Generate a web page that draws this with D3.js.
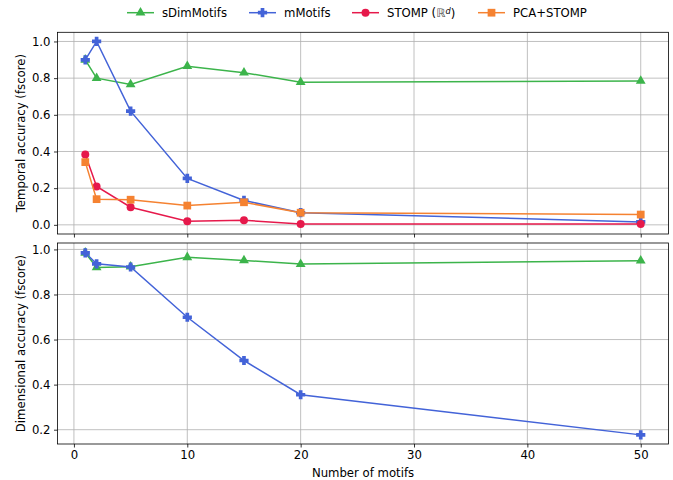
<!DOCTYPE html>
<html>
<head>
<meta charset="utf-8">
<script src="https://cdn.jsdelivr.net/npm/d3@7"></script>
<style>
  body { margin: 0; background: #fff; }
  text { font-family: "DejaVu Sans", sans-serif; fill: #000; }
</style>
</head>
<body>
<svg id="chart" width="673" height="480"></svg>
<script>
// Number of motifs (x values)
var nMotifs = [1, 2, 5, 10, 15, 20, 50];

// Temporal accuracy (fscore), top panel
var temporalSDim = [0.90, 0.80, 0.766, 0.865, 0.83, 0.778, 0.785];
var temporalMMotifs = [0.90, 1.00, 0.62, 0.253, 0.133, 0.066, 0.016];
var temporalStomp = [0.384, 0.209, 0.096, 0.020, 0.025, 0.005, 0.005];
var temporalPca = [0.342, 0.140, 0.137, 0.105, 0.123, 0.066, 0.056];

// Dimensional accuracy (fscore), bottom panel
var dimSDim = [0.985, 0.92, 0.923, 0.965, 0.951, 0.935, 0.95];
var dimMMotifs = [0.985, 0.936, 0.922, 0.699, 0.507, 0.355, 0.177];

// Tick labels
var xTicks = [0, 10, 20, 30, 40, 50];
var topTicks = [0.0, 0.2, 0.4, 0.6, 0.8, 1.0];
var bottomTicks = [0.2, 0.4, 0.6, 0.8, 1.0];

// filled "plus" marker, thicker than d3.symbolCross
var symbolPlus = {
  draw: function (ctx, size) {
    var r = Math.sqrt(size) / 2;
    var w = r * 0.4;
    ctx.moveTo(-w, -r);
    ctx.lineTo(w, -r);
    ctx.lineTo(w, -w);
    ctx.lineTo(r, -w);
    ctx.lineTo(r, w);
    ctx.lineTo(w, w);
    ctx.lineTo(w, r);
    ctx.lineTo(-w, r);
    ctx.lineTo(-w, w);
    ctx.lineTo(-r, w);
    ctx.lineTo(-r, -w);
    ctx.lineTo(-w, -w);
    ctx.closePath();
  }
};

// Series styles
var series = {
  sdim: { name: "sDimMotifs", color: "#3cb44b", symbol: d3.symbolTriangle, size: 42 },
  mmotifs: { name: "mMotifs", color: "#4363d8", symbol: symbolPlus, size: 85 },
  stomp: { name: "STOMP", color: "#e6194b", symbol: d3.symbolCircle, size: 50 },
  pca: { name: "PCA+STOMP", color: "#f58231", symbol: d3.symbolSquare, size: 60 }
};

var fontSize = "11.7px";
var svg = d3.select("#chart");
var left = 57.5, right = 668.5;

var x = d3.scaleLinear().domain([-1.45, 52.45]).range([left, right]);

function drawPanel(top, bottom, yDomain, ticks, label, lines, showXLabels) {
  var y = d3.scaleLinear().domain(yDomain).range([bottom, top]);
  var g = svg.append("g");

  // grid
  g.selectAll(".gx").data(xTicks).enter().append("line")
    .attr("x1", function (d) { return x(d); })
    .attr("x2", function (d) { return x(d); })
    .attr("y1", top).attr("y2", bottom)
    .attr("stroke", "#b0b0b0").attr("stroke-width", 0.8);
  g.selectAll(".gy").data(ticks).enter().append("line")
    .attr("x1", left).attr("x2", right)
    .attr("y1", function (d) { return y(d); })
    .attr("y2", function (d) { return y(d); })
    .attr("stroke", "#b0b0b0").attr("stroke-width", 0.8);

  // lines + markers
  lines.forEach(function (s) {
    var pts = nMotifs.map(function (n, i) { return [n, s.values[i]]; });
    g.append("path")
      .datum(pts)
      .attr("fill", "none")
      .attr("stroke", s.style.color)
      .attr("stroke-width", 1.5)
      .attr("d", d3.line().x(function (d) { return x(d[0]); }).y(function (d) { return y(d[1]); }));
    g.selectAll(null).data(pts).enter().append("path")
      .attr("transform", function (d) { return "translate(" + x(d[0]) + "," + y(d[1]) + ")"; })
      .attr("d", d3.symbol().type(s.style.symbol).size(s.style.size))
      .attr("fill", s.style.color);
  });

  // frame
  g.append("rect")
    .attr("x", left).attr("y", top)
    .attr("width", right - left).attr("height", bottom - top)
    .attr("fill", "none").attr("stroke", "#000").attr("stroke-width", 0.8);

  // axes
  var yAxis = d3.axisLeft(y).tickValues(ticks).tickFormat(d3.format(".1f")).tickSize(3.5).tickPadding(3.5);
  var ya = g.append("g").attr("transform", "translate(" + left + ",0)").call(yAxis);
  var xAxis = d3.axisBottom(x).tickValues(xTicks).tickSize(3.5).tickPadding(3.5)
    .tickFormat(showXLabels ? d3.format("d") : "");
  var xa = g.append("g").attr("transform", "translate(0," + bottom + ")").call(xAxis);
  [ya, xa].forEach(function (a) {
    a.select(".domain").remove();
    a.selectAll("line").attr("stroke", "#000").attr("stroke-width", 0.8);
    a.selectAll("text").style("font-family", "DejaVu Sans").style("font-size", fontSize).attr("fill", "#000");
  });

  // y label
  g.append("text")
    .attr("transform", "translate(24.5," + (top + bottom) / 2 + ") rotate(-90)")
    .style("text-anchor", "middle")
    .style("font-size", fontSize)
    .text(label);
}

drawPanel(32.3, 234, [-0.05, 1.05], topTicks, "Temporal accuracy (fscore)", [
  { style: series.sdim, values: temporalSDim },
  { style: series.mmotifs, values: temporalMMotifs },
  { style: series.stomp, values: temporalStomp },
  { style: series.pca, values: temporalPca }
], false);

drawPanel(243, 444, [0.1365, 1.0285], bottomTicks, "Dimensional accuracy (fscore)", [
  { style: series.sdim, values: dimSDim },
  { style: series.mmotifs, values: dimMMotifs }
], true);

// x label
svg.append("text")
  .attr("x", (left + right) / 2)
  .attr("y", 477)
  .style("text-anchor", "middle")
  .style("font-size", fontSize)
  .text("Number of motifs");

// legend
var legendItems = [series.sdim, series.mmotifs, series.stomp, series.pca];
var legendX = [127, 249, 352, 478];
var legendY = 12.7;
var lg = svg.append("g").selectAll("g").data(legendItems).enter().append("g")
  .attr("transform", function (d, i) { return "translate(" + legendX[i] + "," + legendY + ")"; });
lg.append("line")
  .attr("x1", 0).attr("x2", 27)
  .attr("stroke", function (d) { return d.color; })
  .attr("stroke-width", 1.5);
lg.append("path")
  .attr("transform", "translate(13.5,0)")
  .attr("d", function (d) { return d3.symbol().type(d.symbol).size(d.size)(); })
  .attr("fill", function (d) { return d.color; });
var lt = lg.append("text")
  .attr("x", 35)
  .attr("dy", "0.35em")
  .style("font-size", fontSize);
lt.each(function (d) {
  var t = d3.select(this);
  if (d.name === "STOMP") {
    t.append("tspan").text("STOMP (");
    t.append("tspan").style("font-style", "italic").style("fill", "#555").text("\u211D");
    t.append("tspan").attr("dy", "-0.4em").style("font-size", "8.2px").style("font-style", "italic").text("d");
    t.append("tspan").attr("dy", "0.4em").text(")");
  } else {
    t.text(d.name);
  }
});
</script>
</body>
</html>
